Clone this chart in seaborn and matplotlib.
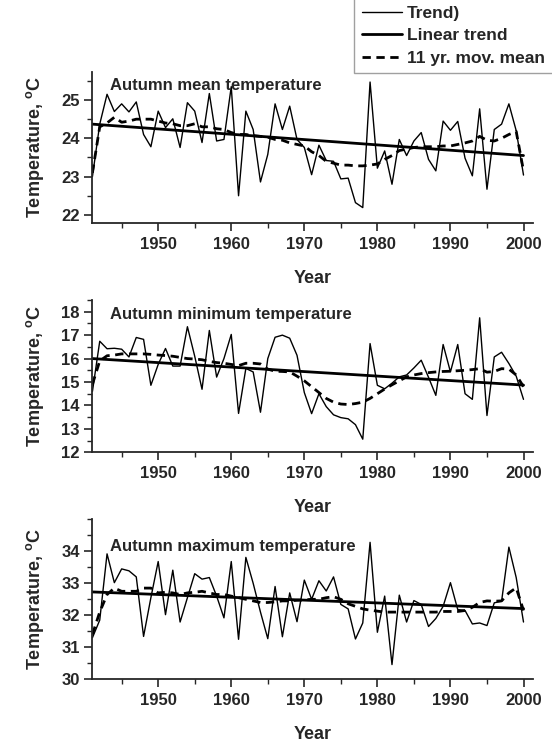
import numpy as np
import pandas as pd
import matplotlib
matplotlib.use("Agg")
import matplotlib.pyplot as plt
import seaborn as sns
from matplotlib.ticker import MultipleLocator
from matplotlib.lines import Line2D

years = list(range(1941, 2001))

mean_t = [23.0, 24.37, 25.15, 24.7, 24.9, 24.69, 24.95, 24.1, 23.78, 24.71,
          24.28, 24.51, 23.76, 24.93, 24.71, 23.89, 25.17, 23.93, 23.97, 25.35,
          22.5, 24.71, 24.23, 22.86, 23.58, 24.9, 24.23, 24.84, 23.97, 23.76,
          23.05, 23.82, 23.42, 23.4, 22.94, 22.96, 22.32, 22.19, 25.47, 23.22,
          23.67, 22.8, 23.97, 23.55, 23.93, 24.15, 23.45, 23.15, 24.45, 24.21,
          24.44, 23.48, 23.02, 24.77, 22.67, 24.23, 24.37, 24.9, 24.2, 23.04]
mean_mov = [23.1, 24.3, 24.4, 24.55, 24.42, 24.45, 24.5, 24.5, 24.5, 24.45,
            24.4, 24.38, 24.33, 24.33, 24.38, 24.3, 24.3, 24.25, 24.23, 24.15,
            24.1, 24.1, 24.07, 24.05, 24.03, 23.97, 23.95, 23.88, 23.84, 23.8,
            23.65, 23.55, 23.4, 23.35, 23.3, 23.3, 23.28, 23.28, 23.3, 23.33,
            23.45, 23.55, 23.68, 23.72, 23.76, 23.78, 23.78, 23.78, 23.8, 23.8,
            23.84, 23.88, 23.93, 24.05, 23.95, 23.93, 24.0, 24.1, 24.18, 23.15]
mean_lin = [24.37, 23.55]

min_t = [14.6, 16.74, 16.42, 16.44, 16.4, 16.07, 16.9, 16.82, 14.86, 15.75,
         16.43, 15.68, 15.68, 17.36, 16.1, 14.69, 17.2, 15.21, 16.0, 17.03,
         13.66, 15.58, 15.43, 13.71, 16.0, 16.91, 17.0, 16.87, 16.14, 14.55,
         13.65, 14.5, 13.95, 13.6, 13.48, 13.43, 13.18, 12.56, 16.64, 14.86,
         14.71, 14.95, 15.22, 15.3, 15.6, 15.93, 15.2, 14.43, 16.6, 15.43,
         16.6, 14.5, 14.26, 17.74, 13.57, 16.07, 16.27, 15.79, 15.25, 14.26]
min_mov = [14.9, 15.9, 16.12, 16.15, 16.2, 16.2, 16.2, 16.2, 16.18, 16.15,
           16.13, 16.1, 16.05, 16.0, 15.98, 15.95, 15.88, 15.83, 15.8, 15.75,
           15.7, 15.8, 15.8, 15.77, 15.55, 15.46, 15.45, 15.43, 15.25, 15.05,
           14.8, 14.55, 14.3, 14.14, 14.06, 14.04, 14.08, 14.14, 14.3, 14.5,
           14.7, 14.88, 15.05, 15.22, 15.3, 15.36, 15.4, 15.43, 15.45, 15.46,
           15.48, 15.5, 15.53, 15.57, 15.42, 15.45, 15.57, 15.55, 15.3, 14.8]
min_lin = [16.0, 14.87]

max_t = [31.3, 31.85, 33.92, 33.02, 33.45, 33.39, 33.2, 31.34, 32.55, 33.68,
         32.02, 33.41, 31.79, 32.55, 33.3, 33.13, 33.18, 32.6, 31.92, 33.68,
         31.25, 33.81, 33.0, 32.1, 31.27, 32.9, 31.33, 32.7, 31.8, 33.1,
         32.5, 33.08, 32.76, 33.2, 32.34, 32.2, 31.26, 31.76, 34.28, 31.47,
         32.6, 30.46, 32.63, 31.79, 32.46, 32.34, 31.65, 31.9, 32.28, 33.02,
         32.18, 32.15, 31.73, 31.76, 31.68, 32.39, 32.44, 34.13, 33.18, 31.79]
max_mov = [31.4, 32.1, 32.65, 32.85, 32.75, 32.75, 32.75, 32.85, 32.85, 32.7,
           32.72, 32.7, 32.65, 32.7, 32.72, 32.75, 32.7, 32.65, 32.65, 32.6,
           32.55, 32.5, 32.45, 32.4, 32.4, 32.42, 32.45, 32.45, 32.47, 32.48,
           32.5, 32.5, 32.55, 32.58, 32.5, 32.36, 32.28, 32.2, 32.16, 32.13,
           32.1, 32.1, 32.1, 32.1, 32.1, 32.1, 32.1, 32.1, 32.12, 32.12,
           32.12, 32.15, 32.25, 32.4, 32.45, 32.44, 32.45, 32.7, 32.86, 32.15]
max_lin = [32.73, 32.21]

titles = ["Autumn mean temperature", "Autumn minimum temperature",
          "Autumn maximum temperature"]
legend_labels = ["Trend)", "Linear trend", "11 yr. mov. mean"]
x_ticks = [1950, 1960, 1970, 1980, 1990, 2000]

sns.set_style("ticks")
plt.rcParams["font.family"] = ["Liberation Sans", "DejaVu Sans"]
plt.rcParams["font.weight"] = "bold"
plt.rcParams["axes.labelweight"] = "bold"
plt.rcParams["mathtext.fontset"] = "custom"
plt.rcParams["mathtext.bf"] = "Liberation Sans:bold"
plt.rcParams["mathtext.rm"] = "Liberation Sans:bold"

W, H = 552, 743
fig = plt.figure(figsize=(W / 100, H / 100), dpi=100)

panels = [
    dict(t=mean_t, m=mean_mov, l=mean_lin, top=71.7, bot=223.3, ylim=(21.78, 25.74),
         yt=[22, 23, 24, 25], minor=0.5, ty=0.91),
    dict(t=min_t, m=min_mov, l=min_lin, top=300, bot=452.3, ylim=(12.0, 18.5),
         yt=[12, 13, 14, 15, 16, 17, 18], minor=0.5, ty=0.905),
    dict(t=max_t, m=max_mov, l=max_lin, top=519.3, bot=679.3, ylim=(30.0, 35.0),
         yt=[30, 31, 32, 33, 34], minor=0.5, ty=0.83),
]

left, right = 91.7, 533.0
for i, p in enumerate(panels):
    ax = fig.add_axes([left / W, 1 - p["bot"] / H, (right - left) / W,
                       (p["bot"] - p["top"]) / H])
    df = pd.DataFrame({"year": years, "val": p["t"], "mov": p["m"]})
    sns.lineplot(data=df, x="year", y="val", ax=ax, color="black", lw=1.0)
    sns.lineplot(x=[years[0], years[-1]], y=p["l"], ax=ax, color="black", lw=2.0)
    sns.lineplot(data=df, x="year", y="mov", ax=ax, color="black", lw=2.0,
                 linestyle=(0, (3, 2)))
    ax.set_xlim(1940.9, 2001.3)
    ax.set_ylim(*p["ylim"])
    ax.set_xticks(x_ticks)
    ax.xaxis.set_minor_locator(MultipleLocator(5))
    ax.set_yticks(p["yt"])
    ax.yaxis.set_minor_locator(MultipleLocator(p["minor"]))
    ax.tick_params(axis="both", which="major", direction="out", length=6,
                   width=1.2, labelsize=12, pad=2.5)
    ax.tick_params(axis="x", which="major", pad=4)
    ax.tick_params(axis="both", which="minor", direction="out", length=3.5, width=1.0)
    for lab in ax.get_xticklabels() + ax.get_yticklabels():
        lab.set_fontweight("bold")
    sns.despine(ax=ax)
    for s in ["left", "bottom"]:
        ax.spines[s].set_linewidth(1.3)
    ax.set_xlabel("Year", fontsize=13, fontweight="bold", labelpad=13)
    ax.set_ylabel(r"Temperature, $^{\mathbf{o}}$C", fontsize=13,
                  fontweight="bold", labelpad=11)
    ax.text(0.042, p["ty"], titles[i], transform=ax.transAxes, fontsize=12,
            fontweight="bold", va="center", ha="left")

handles = [Line2D([], [], color="black", lw=1.0),
           Line2D([], [], color="black", lw=2.0),
           Line2D([], [], color="black", lw=2.0, linestyle=(0, (3, 2)))]
leg = fig.legend(handles, legend_labels, loc="upper left",
                 bbox_to_anchor=(354 / W, 1.003), frameon=True, fancybox=False,
                 prop={"weight": "bold", "size": 12.5}, handlelength=2.3,
                 handletextpad=0.3, labelspacing=0.42, borderpad=0.45,
                 borderaxespad=0)
leg.get_frame().set_edgecolor("#888888")
leg.get_frame().set_linewidth(1.0)

fig.savefig("out.png", dpi=100)
